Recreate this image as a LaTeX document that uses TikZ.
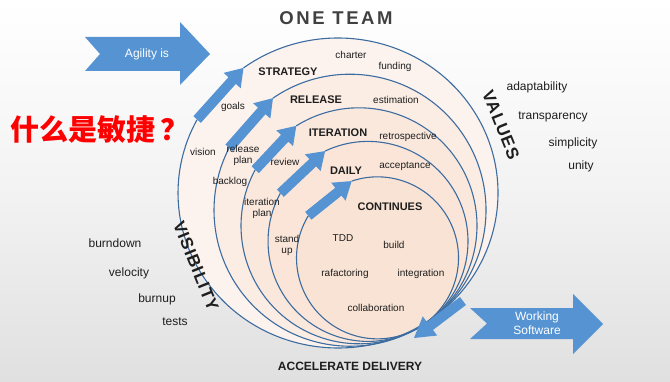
\documentclass[tikz,border=0pt]{standalone}
\usepackage{fontspec}
\setmainfont{Liberation Sans}
\newfontfamily\cjkfont{Noto Sans CJK SC}
\usetikzlibrary{calc}
\definecolor{ablue}{RGB}{86,147,210}
\definecolor{cline}{RGB}{60,108,160}
\definecolor{bgb}{RGB}{224,224,224}
\definecolor{fa}{RGB}{252,243,238}
\definecolor{fb}{RGB}{251,237,228}
\definecolor{fc}{RGB}{250,232,221}
\definecolor{fd}{RGB}{250,229,216}
\definecolor{fe}{RGB}{249,227,212}
\definecolor{txt}{RGB}{30,30,30}
\definecolor{teamgray}{RGB}{64,64,64}
\newcommand\chordarrow[5]{%
  \coordinate (ahH) at ($(#2)!#5!(#1)$);
  \fill[ablue] ($(#1)!#3!90:(#2)$) -- ($(ahH)!#3!90:(#2)$) -- ($(ahH)!#4!90:(#2)$) -- (#2)
    -- ($(ahH)!#4!-90:(#2)$) -- ($(ahH)!#3!-90:(#2)$) -- ($(#1)!#3!-90:(#2)$) -- cycle;}
\tikzset{
  circ/.style={draw=cline, line width=1.1pt},
  lbl/.style={text=txt, font=\fontsize{10}{11}\selectfont, inner sep=1pt, align=center},
  side/.style={text=txt, font=\fontsize{12}{13}\selectfont, inner sep=1pt},
  head/.style={text=txt, font=\fontsize{11}{12}\selectfont\bfseries, inner sep=1pt},
  big/.style={text=txt, font=\fontsize{17}{17}\selectfont\bfseries\addfontfeature{LetterSpace=6}, inner sep=0pt, rotate=-68},
  wlbl/.style={text=white, font=\fontsize{12}{13}\selectfont, align=center, inner sep=0pt},
}
\begin{document}
\begin{tikzpicture}[x=1pt,y=1pt]
\useasboundingbox (0,0) rectangle (670,381);
\shade[top color=white, bottom color=bgb, middle color=white!60!bgb] (0,0) rectangle (670,381);

\coordinate (T) at (418,53);
% outer (slightly elliptic) ring
\coordinate (c1) at (338,188);
\fill[fa] (c1) ellipse[x radius=160, y radius=155];
\foreach \i/\r/\col in {2/136/fb, 3/118/fc, 4/100/fd, 5/81/fe} {
  \coordinate (c\i) at ($(T)+(120:\r)$);
  \fill[\col] (c\i) circle[radius=\r];
}
\coordinate (b1) at ($(c1)+(126.2:160 and 155)$);
\coordinate (a1) at ($(c1)+(-208.3:160 and 155)$);
\draw[circ] (b1) arc[start angle=126.2, end angle=-208.3, x radius=160, y radius=155];
\foreach \i/\r/\ta/\tb in {2/136/124.5/-207.3, 3/118/122.1/-208.4, 4/100/115.4/-208.8, 5/81/108.6/-211.3} {
  \coordinate (b\i) at ($(c\i)+(\ta:\r)$);
  \coordinate (a\i) at ($(c\i)+(\tb:\r)$);
  \draw[circ] (b\i) arc[start angle=\ta, end angle=\tb, radius=\r];
}
\chordarrow{a1}{b1}{5pt}{11.5pt}{17pt}
\chordarrow{a2}{b2}{5pt}{11.5pt}{17pt}
\chordarrow{a3}{b3}{5pt}{11.5pt}{17pt}
\chordarrow{a4}{b4}{5pt}{11.5pt}{17pt}
\chordarrow{a5}{b5}{5pt}{11.5pt}{17pt}

\coordinate (oa) at (463,80);
\coordinate (ob) at (414,43);
\chordarrow{oa}{ob}{5pt}{12pt}{20pt}

% big notched arrows
\fill[ablue] (85,344) -- (180,344) -- (180,359) -- (210,327) -- (180,296) -- (180,310) -- (85,310) -- (100,327) -- cycle;
\node[wlbl] (agile) at (147,327) {Agility is};
\fill[ablue] (470,73) -- (573,73) -- (573,87) -- (603,57) -- (573,27) -- (573,42) -- (470,42) -- (487,57.5) -- cycle;
\node[wlbl, font=\fontsize{12}{14}\selectfont] (works) at (537,57.5) {Working\\Software};

% titles
\node[text=teamgray, font=\fontsize{18.5}{18}\selectfont\bfseries\addfontfeature{LetterSpace=14}] (team) at (336,363) {ONE TEAM};
\node[head, font=\fontsize{12}{12}\selectfont\bfseries] (acc) at (350,15) {ACCELERATE DELIVERY};
\node[big] (values) at (501,256) {VALUES};
\node[big] (visib) at (196,115) {VISIBILITY};

\node[head] (strat) at (288,309) {STRATEGY};
\node[head] (rel) at (316,281) {RELEASE};
\node[head] (iter) at (338,248) {ITERATION};
\node[head] (daily) at (346,210) {DAILY};
\node[head] (cont) at (390,174) {CONTINUES};

\node[lbl] (charter) at (351,326) {charter};
\node[lbl] (funding) at (395,314) {funding};
\node[lbl] (goals) at (233,274) {goals};
\node[lbl] (estim) at (396,281) {estimation};
\node[lbl] (vision) at (203,229) {vision};
\node[lbl] (relplan) at (243,226) {release\\plan};
\node[lbl] (review) at (285,219) {review};
\node[lbl] (retro) at (408,244) {retrospective};
\node[lbl] (accept) at (405,215) {acceptance};
\node[lbl] (backlog) at (230,199) {backlog};
\node[lbl] (iterplan) at (262,173) {iteration\\plan};
\node[lbl] (standup) at (287,136) {stand\\up};
\node[lbl] (tdd) at (343,143) {TDD};
\node[lbl] (build) at (394,136) {build};
\node[lbl] (rafac) at (345,107) {rafactoring};
\node[lbl] (integ) at (421,107) {integration};
\node[lbl] (collab) at (376,73) {collaboration};

\node[side] (adapt) at (537,294) {adaptability};
\node[side] (transp) at (553,264) {transparency};
\node[side] (simpl) at (573,238) {simplicity};
\node[side] (unity) at (581,215) {unity};
\node[side] (burnd) at (115,138) {burndown};
\node[side] (veloc) at (129,108) {velocity};
\node[side] (burnu) at (157,82) {burnup};
\node[side] (tests) at (175,59) {tests};

\node[text=red, font=\fontsize{29}{29}\selectfont\cjkfont\bfseries, inner sep=0pt] (zh) at (100,251) {什么是敏捷\hspace{5pt}？};
\end{tikzpicture}
\end{document}
